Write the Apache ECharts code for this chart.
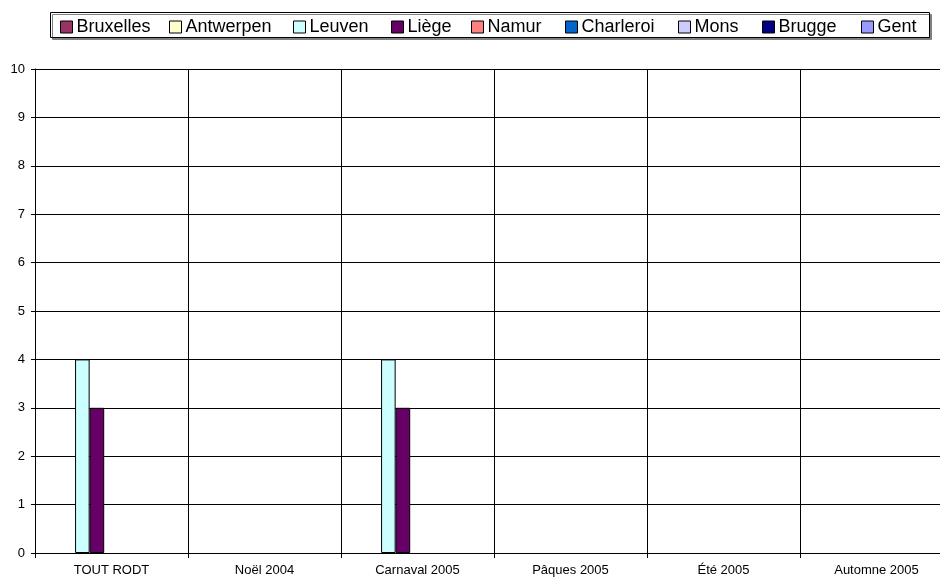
<!DOCTYPE html>
<html><head><meta charset="utf-8">
<script src="https://cdn.jsdelivr.net/npm/echarts@6/dist/echarts.min.js"></script>
<style>html,body{margin:0;padding:0;background:#fff;overflow:hidden;width:940px;height:579px}#c{width:960px;height:579px}</style>
</head><body><div id="c"></div>
<script>
const categories = ['TOUT RODT', 'Noël 2004', 'Carnaval 2005', 'Pâques 2005', 'Été 2005', 'Automne 2005'];
const seriesNames = ['Bruxelles', 'Antwerpen', 'Leuven', 'Liège', 'Namur', 'Charleroi', 'Mons', 'Brugge', 'Gent'];
const bruxelles = [null, null, null, null, null, null];
const antwerpen = [null, null, null, null, null, null];
const leuven = [4, null, 4, null, null, null];
const liege = [3, null, 3, null, null, null];
const namur = [null, null, null, null, null, null];
const charleroi = [null, null, null, null, null, null];
const mons = [null, null, null, null, null, null];
const brugge = [null, null, null, null, null, null];
const gent = [null, null, null, null, null, null];
const yTicks = [0, 1, 2, 3, 4, 5, 6, 7, 8, 9, 10];

const allData = [bruxelles, antwerpen, leuven, liege, namur, charleroi, mons, brugge, gent];
const colors = ['#993366', '#FFFFCC', '#CCFFFF', '#660066', '#FF8080', '#0066CC', '#CCCCFF', '#000080', '#9999FF'];
const legendLeft = [60, 169, 293, 391, 471, 565, 678, 762, 861];

const chart = echarts.init(document.getElementById('c'));
chart.setOption({
  animation: false,
  textStyle: { fontFamily: '"Liberation Sans", Arial, sans-serif' },
  graphic: [{
    type: 'rect', left: 50, top: 12, z: -1,
    shape: { width: 879, height: 25 },
    style: { fill: '#fff', stroke: '#000', lineWidth: 1, shadowColor: '#808080', shadowOffsetX: 2, shadowOffsetY: 2, shadowBlur: 0 }
  }],
  legend: seriesNames.map((n, i) => ({
    top: 18, left: legendLeft[i], padding: 0,
    data: [n],
    itemWidth: 12, itemHeight: 12, itemGap: 0,
    icon: 'rect',
    textStyle: { fontSize: 18, color: '#000', lineHeight: 13, padding: [0, 0, 0, -1] },
    itemStyle: { borderColor: '#000', borderWidth: 1 }
  })),
  grid: { left: 35, top: 69, width: 918, height: 484 },
  xAxis: {
    type: 'category', data: categories,
    axisLine: { lineStyle: { color: '#000' } },
    axisTick: { show: true, length: 5, lineStyle: { color: '#000' } },
    splitLine: { show: true, lineStyle: { color: '#000', width: 1 } },
    axisLabel: { color: '#000', fontSize: 13, margin: 11, interval: 0 }
  },
  yAxis: {
    type: 'value', min: yTicks[0], max: yTicks[yTicks.length - 1], interval: 1,
    axisLine: { show: true, lineStyle: { color: '#000' } },
    axisTick: { show: true, length: 4, lineStyle: { color: '#000' } },
    splitLine: { show: true, lineStyle: { color: '#000', width: 1 } },
    axisLabel: { color: '#000', fontSize: 13, margin: 10 }
  },
  series: seriesNames.map((n, i) => ({
    name: n, type: 'bar', data: allData[i],
    barGap: '0%', barCategoryGap: '14.3%',
    itemStyle: { color: colors[i], borderColor: '#000', borderWidth: 1 }
  }))
});
</script></body></html>
